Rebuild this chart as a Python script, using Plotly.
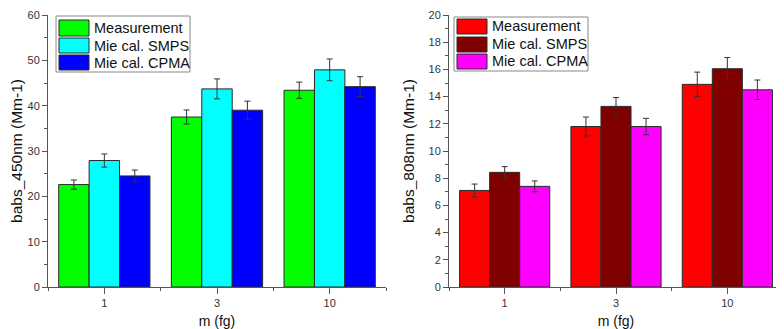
import plotly.graph_objects as go

# ---------------- data ----------------
categories = ["1", "3", "10"]
series_names = ["Measurement", "Mie cal. SMPS", "Mie cal. CPMA"]

# 450 nm panel
meas_450 = [22.6, 37.5, 43.4]
meas_450_err = [1.0, 1.55, 1.8]
smps_450 = [27.9, 43.7, 47.9]
smps_450_err = [1.45, 2.2, 2.4]
cpma_450 = [24.5, 39.0, 44.2]
cpma_450_err = [1.3, 2.0, 2.2]

# 808 nm panel
meas_808 = [7.1, 11.8, 14.9]
meas_808_err = [0.47, 0.7, 0.9]
smps_808 = [8.43, 13.28, 16.05]
smps_808_err = [0.42, 0.65, 0.82]
cpma_808 = [7.4, 11.8, 14.5]
cpma_808_err = [0.4, 0.6, 0.72]

colors_450 = ["#00FF00", "#00FFFF", "#0000FF"]
colors_808 = ["#FF0000", "#800000", "#FF00FF"]

y_titles = ["babs_450nm (Mm-1)", "babs_808nm (Mm-1)"]
x_title = "m (fg)"

# ---------------- layout constants ----------------
OFF = 8  # default page body margin
W, H = 784 - OFF, 329 - OFF
MT, MB = 15 - OFF, 42
PH = H - MT - MB
FONT = "Arial, Liberation Sans, sans-serif"

def px_x(p):
    return (p - OFF) / W

def px_y(p):
    return (329 - MB - p) / PH

fig = go.Figure()
xpos = list(range(len(categories)))

panels = [
    ("x", "y", [meas_450, smps_450, cpma_450], [meas_450_err, smps_450_err, cpma_450_err], colors_450),
    ("x2", "y2", [meas_808, smps_808, cpma_808], [meas_808_err, smps_808_err, cpma_808_err], colors_808),
]
for xa, ya, vals, errs, cols in panels:
    for name, v, e, c in zip(series_names, vals, errs, cols):
        fig.add_trace(go.Bar(
            x=xpos, y=v, name=name, xaxis=xa, yaxis=ya,
            marker=dict(color=c, line=dict(color="#2a2a2a", width=1)),
            error_y=dict(type="data", array=e, visible=True, color="#333333", thickness=1, width=3),
            showlegend=False,
        ))

axis_common = dict(
    showline=True, linecolor="#555555", linewidth=1, showgrid=False, zeroline=False,
    ticks="outside", tickcolor="#555555", tickfont=dict(family=FONT, size=11, color="#333333"),
    mirror=False, automargin=False,
)

xdomains = [[px_x(48), px_x(386)], [px_x(449), px_x(783)]]
yranges = [[0, 60], [0, 20]]
ydticks = [10, 2]

for i, (xd, yr, dt, yt) in enumerate(zip(xdomains, yranges, ydticks, y_titles)):
    sfx = "" if i == 0 else str(i + 1)
    fig.update_layout(**{
        "xaxis" + sfx: dict(
            axis_common, domain=xd, range=[-0.5, len(categories) - 0.5],
            tickmode="array", tickvals=xpos, ticktext=categories, ticklen=6,
            anchor="y" + sfx,
            title=dict(text=x_title, standoff=8, font=dict(family=FONT, size=14, color="#111111")),
            minor=dict(tickmode="linear", tick0=-0.5, dtick=1, ticklen=3, ticks="outside", tickcolor="#555555"),
        ),
        "yaxis" + sfx: dict(
            axis_common, domain=[0, 1], range=yr, dtick=dt, ticklen=5,
            anchor="x" + sfx,
            title=dict(text=yt, standoff=10, font=dict(family=FONT, size=15.5, color="#111111")),
            minor=dict(dtick=dt / 2, ticklen=3, ticks="outside", tickcolor="#555555"),
        ),
    })

# ---------------- legends (drawn boxes) ----------------
legend_specs = [
    (56, 16, 190, 72, 59, 89, [(20, 36), (38, 53), (55, 70)], 94, colors_450),
    (454, 17, 588, 71, 457, 487, [(19, 34), (37, 52), (54, 69)], 492, colors_808),
]
shapes = []
annotations = []
for bx0, by0, bx1, by1, sx0, sx1, rows, tx, cols in legend_specs:
    shapes.append(dict(type="rect", xref="paper", yref="paper",
                       x0=px_x(bx0), x1=px_x(bx1), y0=px_y(by0), y1=px_y(by1),
                       line=dict(color="#888888", width=1), fillcolor="white", layer="above"))
    for (ry0, ry1), c, name in zip(rows, cols, series_names):
        shapes.append(dict(type="rect", xref="paper", yref="paper",
                           x0=px_x(sx0), x1=px_x(sx1), y0=px_y(ry0), y1=px_y(ry1),
                           line=dict(color="#2a2a2a", width=1), fillcolor=c, layer="above"))
        annotations.append(dict(xref="paper", yref="paper", x=px_x(tx - 2), y=px_y((ry0 + ry1) / 2),
                                text=name, showarrow=False, xanchor="left", yanchor="middle",
                                font=dict(family=FONT, size=14.5, color="#111111")))

fig.update_layout(
    width=W, height=H,
    margin=dict(l=0, r=0, t=MT, b=MB, autoexpand=False),
    paper_bgcolor="white", plot_bgcolor="white",
    barmode="group", bargap=0.19, bargroupgap=0,
    showlegend=False,
    shapes=shapes, annotations=annotations,
    font=dict(family=FONT),
)

fig.write_html("out.html")
